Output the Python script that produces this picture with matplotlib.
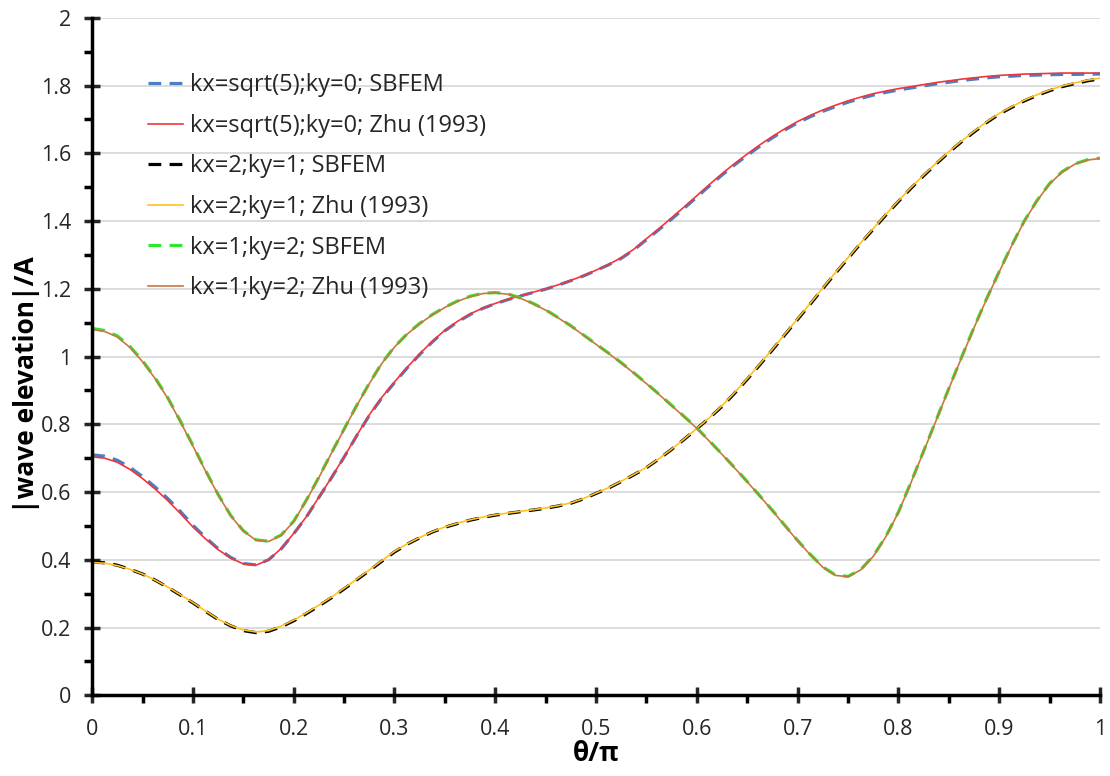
import numpy as np
import matplotlib.pyplot as plt
import matplotlib as mpl
from matplotlib.ticker import MultipleLocator

theta = np.arange(0, 81) * 0.0125

# kx=sqrt(5), ky=0
a_zhu = [0.704, 0.700, 0.688, 0.667, 0.640, 0.609, 0.575, 0.537, 0.497, 0.462,
         0.430, 0.405, 0.388, 0.384, 0.400, 0.433, 0.478, 0.527, 0.585, 0.643,
         0.704, 0.767, 0.828, 0.880, 0.925, 0.968, 1.008, 1.045, 1.078, 1.104,
         1.126, 1.143, 1.157, 1.169, 1.180, 1.190, 1.200, 1.212, 1.225, 1.239,
         1.255, 1.272, 1.292, 1.317, 1.348, 1.378, 1.410, 1.442, 1.475, 1.508,
         1.540, 1.570, 1.598, 1.625, 1.650, 1.673, 1.694, 1.712, 1.728, 1.742,
         1.755, 1.766, 1.776, 1.784, 1.791, 1.797, 1.803, 1.809, 1.814, 1.819,
         1.823, 1.827, 1.830, 1.832, 1.834, 1.835, 1.836, 1.837, 1.837, 1.837, 1.837]
a_sbfem = [0.710, 0.706, 0.694, 0.673, 0.646, 0.615, 0.581, 0.543, 0.502, 0.466,
           0.433, 0.407, 0.389, 0.385, 0.400, 0.432, 0.477, 0.526, 0.584, 0.642,
           0.703, 0.766, 0.826, 0.878, 0.923, 0.966, 1.006, 1.043, 1.076, 1.102,
           1.124, 1.142, 1.156, 1.168, 1.179, 1.189, 1.199, 1.211, 1.224, 1.238,
           1.254, 1.271, 1.290, 1.315, 1.345, 1.375, 1.406, 1.438, 1.471, 1.504,
           1.536, 1.566, 1.594, 1.621, 1.646, 1.669, 1.690, 1.708, 1.724, 1.738,
           1.751, 1.762, 1.772, 1.780, 1.787, 1.793, 1.799, 1.805, 1.810, 1.815,
           1.819, 1.823, 1.826, 1.828, 1.830, 1.831, 1.832, 1.833, 1.833, 1.834, 1.834]

# kx=2, ky=1
b_zhu = [0.392, 0.390, 0.383, 0.372, 0.358, 0.340, 0.320, 0.297, 0.274, 0.249,
         0.225, 0.206, 0.193, 0.187, 0.191, 0.204, 0.222, 0.243, 0.266, 0.290,
         0.316, 0.343, 0.370, 0.398, 0.425, 0.447, 0.466, 0.483, 0.497, 0.508,
         0.518, 0.526, 0.533, 0.538, 0.543, 0.548, 0.553, 0.560, 0.568, 0.581,
         0.597, 0.613, 0.632, 0.652, 0.673, 0.699, 0.727, 0.757, 0.788, 0.820,
         0.855, 0.894, 0.935, 0.978, 1.022, 1.067, 1.112, 1.157, 1.203, 1.248,
         1.292, 1.336, 1.378, 1.420, 1.460, 1.499, 1.536, 1.571, 1.605, 1.636,
         1.665, 1.693, 1.718, 1.738, 1.757, 1.773, 1.787, 1.799, 1.808, 1.816, 1.822]
b_sbfem = [0.394, 0.391, 0.384, 0.372, 0.358, 0.340, 0.319, 0.296, 0.273, 0.248,
           0.224, 0.205, 0.191, 0.185, 0.189, 0.202, 0.220, 0.241, 0.264, 0.288,
           0.314, 0.341, 0.368, 0.396, 0.423, 0.446, 0.465, 0.482, 0.496, 0.507,
           0.517, 0.525, 0.532, 0.537, 0.542, 0.547, 0.552, 0.559, 0.567, 0.580,
           0.596, 0.612, 0.631, 0.651, 0.672, 0.698, 0.726, 0.756, 0.787, 0.819,
           0.853, 0.892, 0.933, 0.976, 1.020, 1.065, 1.110, 1.155, 1.201, 1.246,
           1.290, 1.334, 1.376, 1.418, 1.458, 1.497, 1.534, 1.569, 1.603, 1.634,
           1.663, 1.691, 1.716, 1.736, 1.755, 1.771, 1.785, 1.797, 1.806, 1.814, 1.820]

# kx=1, ky=2
c_zhu = [1.080, 1.074, 1.058, 1.027, 0.985, 0.935, 0.877, 0.808, 0.736, 0.662,
         0.592, 0.530, 0.485, 0.458, 0.454, 0.472, 0.513, 0.575, 0.643, 0.715,
         0.785, 0.855, 0.920, 0.980, 1.028, 1.066, 1.097, 1.123, 1.145, 1.163,
         1.177, 1.186, 1.188, 1.184, 1.172, 1.156, 1.137, 1.114, 1.090, 1.063,
         1.036, 1.009, 0.981, 0.951, 0.920, 0.888, 0.855, 0.822, 0.788, 0.750,
         0.711, 0.671, 0.630, 0.588, 0.545, 0.500, 0.456, 0.415, 0.378, 0.354,
         0.350, 0.370, 0.410, 0.468, 0.540, 0.628, 0.720, 0.812, 0.905, 0.996,
         1.085, 1.170, 1.250, 1.328, 1.400, 1.460, 1.510, 1.545, 1.568, 1.580, 1.585]
c_sbfem = [1.083, 1.077, 1.061, 1.030, 0.988, 0.937, 0.879, 0.810, 0.738, 0.664,
           0.593, 0.531, 0.486, 0.459, 0.455, 0.473, 0.514, 0.576, 0.644, 0.716,
           0.786, 0.856, 0.921, 0.981, 1.029, 1.067, 1.098, 1.124, 1.146, 1.164,
           1.178, 1.187, 1.189, 1.185, 1.173, 1.157, 1.138, 1.115, 1.091, 1.064,
           1.037, 1.010, 0.982, 0.952, 0.921, 0.889, 0.856, 0.823, 0.789, 0.751,
           0.712, 0.672, 0.631, 0.589, 0.546, 0.501, 0.457, 0.416, 0.379, 0.355,
           0.351, 0.371, 0.411, 0.469, 0.541, 0.629, 0.721, 0.813, 0.906, 0.997,
           1.086, 1.171, 1.251, 1.329, 1.401, 1.461, 1.511, 1.546, 1.569, 1.581, 1.586]

labels = ['kx=sqrt(5);ky=0; SBFEM', 'kx=sqrt(5);ky=0; Zhu (1993)',
          'kx=2;ky=1; SBFEM', 'kx=2;ky=1; Zhu (1993)',
          'kx=1;ky=2; SBFEM', 'kx=1;ky=2; Zhu (1993)']

plt.rcParams['font.family'] = ['Open Sans', 'DejaVu Sans']
mpl.rcParams['axes.linewidth'] = 2.5

fig = plt.figure(figsize=(11.1, 7.76), dpi=100)
ax = fig.add_axes([0.083, 0.104, 0.908, 0.873])

dash = (0, (4.0, 2.6))
dlw = 2.3
slw = 1.2
ax.plot(theta, a_sbfem, color='#4a7fc1', lw=dlw, ls=dash, label=labels[0])
ax.plot(theta, a_zhu, color='#f2353a', lw=slw, label=labels[1])
ax.plot(theta, b_sbfem, color='black', lw=dlw, ls=dash, label=labels[2])
ax.plot(theta, b_zhu, color='#ffc21a', lw=slw, label=labels[3])
ax.plot(theta, c_sbfem, color='#2fe62f', lw=dlw, ls=dash, label=labels[4])
ax.plot(theta, c_zhu, color='#c8773f', lw=slw, label=labels[5])

ax.set_xlim(0, 1)
ax.set_ylim(0, 2)
ax.set_xticks(np.arange(0, 1.01, 0.1))
ax.set_xticklabels(['0', '0.1', '0.2', '0.3', '0.4', '0.5', '0.6', '0.7', '0.8', '0.9', '1'])
ax.set_yticks(np.arange(0, 2.01, 0.2))
ax.set_yticklabels(['0', '0.2', '0.4', '0.6', '0.8', '1', '1.2', '1.4', '1.6', '1.8', '2'])
ax.xaxis.set_minor_locator(MultipleLocator(0.05))
ax.yaxis.set_minor_locator(MultipleLocator(0.1))

ax.tick_params(which='major', direction='inout', length=12, width=2.5, labelsize=15.5, colors='#262626')
ax.tick_params(which='minor', direction='out', length=6, width=2.5)
ax.tick_params(axis='x', which='major', pad=11)
ax.tick_params(axis='y', which='major', pad=9)
for sp in ['top', 'right']:
    ax.spines[sp].set_visible(False)
ax.grid(True, axis='y', which='major', color='#d9d9d9', lw=1.3)
ax.set_axisbelow(True)

ax.set_xlabel('θ/π', fontsize=19, fontweight='bold', labelpad=0)
ax.set_ylabel('|wave elevation|/A', fontsize=19, fontweight='bold')
ax.yaxis.set_label_coords(-0.052, 0.458)

leg = ax.legend(loc='upper left', bbox_to_anchor=(0.0556, 0.918), frameon=False,
                borderpad=0, borderaxespad=0, fontsize=17, handlelength=1.48,
                handletextpad=0.3, labelspacing=0.7)
for t in leg.get_texts():
    t.set_color('#262626')

plt.savefig('out.png', dpi=100)
